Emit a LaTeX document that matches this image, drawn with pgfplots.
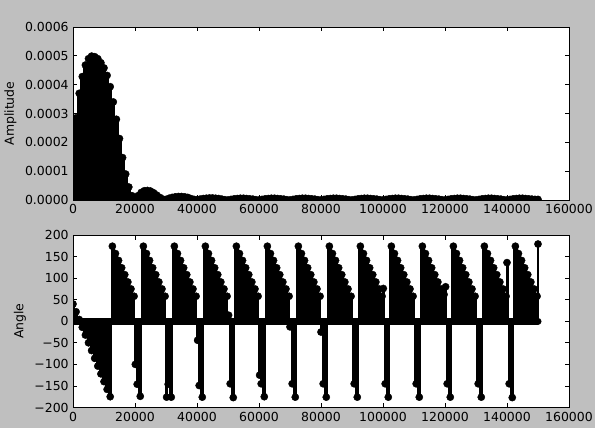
\documentclass[border=0pt]{standalone}
\usepackage{fontspec}
\setmainfont{DejaVu Sans}
\usepackage{pgfplots}
\usepackage{pgfplotstable}
\pgfplotsset{compat=1.18}
\definecolor{bg}{RGB}{191,191,191}
\pgfplotstableread{
x y
0 1.85e-4
1000 2.85e-4
2000 3.70e-4
3000 4.28e-4
4000 4.68e-4
5000 4.90e-4
6000 4.99e-4
7000 4.97e-4
8000 4.90e-4
9000 4.76e-4
10000 4.58e-4
11000 4.32e-4
12000 3.93e-4
13000 3.40e-4
14000 2.80e-4
15000 2.13e-4
16000 1.47e-4
17000 0.90e-4
18000 0.45e-4
19000 0.15e-4
20000 4e-6
21000 15e-6
22000 26e-6
23000 32e-6
24000 33e-6
25000 31e-6
26000 25e-6
27000 17e-6
28000 9e-6
29000 3e-6
30000 2e-6
31000 6e-6
32000 9e-6
33000 11e-6
34000 12e-6
35000 12e-6
36000 11e-6
37000 9e-6
38000 5e-6
39000 2e-6
40000 1e-6
41000 3e-6
42000 5e-6
43000 6e-6
44000 7e-6
45000 7e-6
46000 6e-6
47000 5e-6
48000 3e-6
49000 1e-6
50000 0
51000 2e-6
52000 4e-6
53000 5e-6
54000 6e-6
55000 6e-6
56000 5e-6
57000 4e-6
58000 3e-6
59000 1e-6
60000 0
61000 2e-6
62000 4e-6
63000 5e-6
64000 6e-6
65000 6e-6
66000 5e-6
67000 4e-6
68000 3e-6
69000 1e-6
70000 0
71000 2e-6
72000 4e-6
73000 5e-6
74000 6e-6
75000 6e-6
76000 5e-6
77000 4e-6
78000 3e-6
79000 1e-6
80000 0
81000 2e-6
82000 4e-6
83000 5e-6
84000 6e-6
85000 6e-6
86000 5e-6
87000 4e-6
88000 3e-6
89000 1e-6
90000 0
91000 2e-6
92000 4e-6
93000 5e-6
94000 6e-6
95000 6e-6
96000 5e-6
97000 4e-6
98000 3e-6
99000 1e-6
100000 0
101000 2e-6
102000 4e-6
103000 5e-6
104000 6e-6
105000 6e-6
106000 5e-6
107000 4e-6
108000 3e-6
109000 1e-6
110000 0
111000 2e-6
112000 4e-6
113000 5e-6
114000 6e-6
115000 6e-6
116000 5e-6
117000 4e-6
118000 3e-6
119000 1e-6
120000 0
121000 2e-6
122000 4e-6
123000 5e-6
124000 6e-6
125000 6e-6
126000 5e-6
127000 4e-6
128000 3e-6
129000 1e-6
130000 0
131000 2e-6
132000 4e-6
133000 5e-6
134000 6e-6
135000 6e-6
136000 5e-6
137000 4e-6
138000 3e-6
139000 1e-6
140000 0
141000 2e-6
142000 4e-6
143000 5e-6
144000 6e-6
145000 6e-6
146000 5e-6
147000 4e-6
148000 3e-6
149000 2e-6
150000 2e-6
}\amp
\pgfplotstableread{
x y
0 40
1000 22
2000 4
3000 -14
4000 -32
5000 -50
6000 -68
7000 -86
8000 -104
9000 -122
10000 -140
11000 -158
12000 -175
12700 174
13700 157
14700 141
15700 124
16700 108
17700 91
18700 75
19700 58
20100 -100
20700 -146
21700 -174
22700 174
23700 157
24700 141
25700 124
26700 108
27700 91
28700 75
29700 58
30200 -176
30700 -146
31700 -176
32700 174
33700 157
34700 141
35700 124
36700 108
37700 91
38700 75
39700 58
40200 -44
40700 -149
41700 -176
42700 174
43700 157
44700 141
45700 124
46700 108
47700 91
48700 75
49700 58
50200 14
50700 -145
51700 -177
52700 174
53700 157
54700 141
55700 124
56700 108
57700 91
58700 75
59700 58
60200 -125
60700 -145
61700 -175
62700 174
63700 157
64700 141
65700 124
66700 108
67700 91
68700 75
69700 58
70000 -13
70700 -145
71700 -176
72700 174
73700 157
74700 141
75700 124
76700 108
77700 91
78700 75
79700 58
80000 -25
80700 -145
81700 -176
82700 174
83700 157
84700 141
85700 124
86700 108
87700 91
88700 75
89700 58
90700 -145
91700 -176
92700 174
93700 157
94700 141
95700 124
96700 108
97700 91
98700 75
99700 58
100100 76
100700 -145
101700 -176
102700 174
103700 157
104700 141
105700 124
106700 108
107700 91
108700 75
109700 58
110700 -145
111700 -176
112700 174
113700 157
114700 141
115700 124
116700 108
117700 91
118700 75
119700 62
120200 80
120700 -145
121700 -176
122700 174
123700 157
124700 141
125700 124
126700 108
127700 91
128700 75
129700 58
130700 -145
131700 -176
132700 174
133700 157
134700 141
135700 124
136700 108
137700 91
138700 75
139700 58
140000 136
140700 -145
141700 -177
142700 174
143700 157
144700 141
145700 124
146700 108
147700 91
148700 75
149700 58
150000 179
}\ang
\pgfplotsset{
  mystyle/.style={
    scale only axis, width=496bp, anchor=south west,
    xmin=0, xmax=160000, xtick={0,20000,40000,60000,80000,100000,120000,140000,160000},
    xticklabels={0,20000,40000,60000,80000,100000,120000,140000,160000},
    scaled x ticks=false, scaled y ticks=false,
    axis background/.style={fill=white},
    axis line style={black, line width=0.9bp},
    tick style={black, line width=0.8bp},
    major tick length=4.5bp,
    ticklabel style={font=\fontsize{12.5}{15}\selectfont},
    label style={font=\fontsize{12.5}{15}\selectfont},
    clip marker paths=true,
  },
  stemarea/.style={fill=black, draw=black, line width=0.8bp, const plot mark mid, mark=none},
  stemmarks/.style={only marks, mark=*, mark size=3.6bp,
    mark options={line width=0.4bp, fill=black, draw=black}},
}
\begin{document}
\fontsize{12.5}{15}\selectfont
\begin{tikzpicture}
\fill[bg] (0,0) rectangle (595bp,428bp);
\useasboundingbox (0,0) rectangle (595bp,428bp);
\begin{axis}[mystyle, at={(73bp,228bp)}, height=173bp,
  ymin=0, ymax=0.0006,
  ytick={0,0.0001,0.0002,0.0003,0.0004,0.0005,0.0006},
  yticklabels={0.0000,0.0001,0.0002,0.0003,0.0004,0.0005,0.0006},
  ylabel={Amplitude}]
\addplot[stemarea] table[x=x,y=y] {\amp} \closedcycle;
\addplot[stemmarks] table[x=x,y=y] {\amp};
\end{axis}
\begin{axis}[mystyle, at={(73bp,20.5bp)}, height=172.5bp,
  ymin=-200, ymax=200,
  ytick={-200,-150,-100,-50,0,50,100,150,200},
  yticklabels={−200,−150,−100,−50,0,50,100,150,200},
  ylabel={Angle}]
\addplot[stemarea] table[x=x,y=y] {\ang} \closedcycle;
\addplot[black, line width=7bp, line cap=round] coordinates {(0,0)(150000,0)};
\addplot[stemmarks] table[x=x,y=y] {\ang};
\end{axis}
\end{tikzpicture}
\end{document}
